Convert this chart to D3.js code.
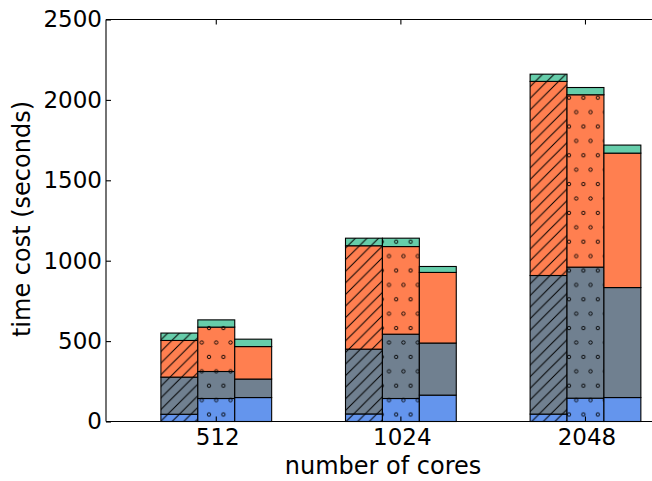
<!DOCTYPE html>
<html>
<head>
<meta charset="utf-8">
<script src="https://cdn.jsdelivr.net/npm/d3@7"></script>
<style>
  html, body { margin: 0; padding: 0; background: #fff; }
  svg { display: block; }
  text { font-family: "DejaVu Sans", sans-serif; fill: #000; }
</style>
</head>
<body>
<svg id="chart" width="652" height="481"></svg>
<script>
// ---- data ----
const categories = ["512", "1024", "2048"];
const segmentNames = ["blue", "gray", "orange", "green"];
const segmentColors = ["#6495ED", "#708090", "#FF7F50", "#66CDAA"];

// hatched ('//') bars
const hatchedBlue   = [45, 47, 46];
const hatchedGray   = [231, 403, 862];
const hatchedOrange = [228, 643, 1207];
const hatchedGreen  = [46, 47, 45];
// dotted ('o') bars
const dottedBlue   = [143, 143, 145];
const dottedGray   = [168, 400, 815];
const dottedOrange = [276, 545, 1072];
const dottedGreen  = [45, 52, 45];
// plain bars
const plainBlue   = [149, 164, 149];
const plainGray   = [115, 324, 684];
const plainOrange = [202, 439, 836];
const plainGreen  = [46, 37, 50];

const yTicks = [0, 500, 1000, 1500, 2000, 2500];

const barSets = [
  { pattern: "hatch", values: [hatchedBlue, hatchedGray, hatchedOrange, hatchedGreen] },
  { pattern: "dots",  values: [dottedBlue, dottedGray, dottedOrange, dottedGreen] },
  { pattern: null,    values: [plainBlue, plainGray, plainOrange, plainGreen] }
];
const barWidth = 0.2;

// ---- layout ----
const svg = d3.select("#chart");
const plotLeft = 106, plotTop = 19.5, plotBottom = 421.5;
const x = d3.scaleLinear().domain([-0.2974, 3.0]).range([plotLeft, plotLeft + 184.6 * 3.2974]);
const y = d3.scaleLinear().domain([0, 2500]).range([plotBottom, plotTop]);

// patterns
const defs = svg.append("defs");
const hs = 11.6;
const hp = defs.append("pattern").attr("id", "hatch")
  .attr("patternUnits", "userSpaceOnUse").attr("width", hs).attr("height", hs)
  .attr("patternTransform", "translate(2,0)");
hp.append("path").attr("d", `M-1,1 L1,-1 M0,${hs} L${hs},0 M${hs-1},${hs+1} L${hs+1},${hs-1}`)
  .attr("stroke", "#000").attr("stroke-width", 1).attr("fill", "none");

const dw = 14.4, dh = 28.8;
const dp = defs.append("pattern").attr("id", "dots")
  .attr("patternUnits", "userSpaceOnUse").attr("width", dw).attr("height", dh)
  .attr("patternTransform", "translate(7.4,11.3)");
[[0,0],[dw,0],[0,dh],[dw,dh],[dw/2,dh/2]].forEach(([cx, cy]) => {
  dp.append("circle").attr("cx", cx).attr("cy", cy).attr("r", 1.7)
    .attr("fill", "none").attr("stroke", "#000").attr("stroke-width", 0.9);
});

// bars
const gBars = svg.append("g");
categories.forEach((cat, i) => {
  barSets.forEach((set, k) => {
    let acc = 0;
    set.values.forEach((arr, s) => {
      const v = arr[i];
      const x0 = x(i + k * barWidth), x1 = x(i + (k + 1) * barWidth);
      const y0 = y(acc), y1 = y(acc + v);
      gBars.append("rect")
        .attr("x", x0).attr("y", y1).attr("width", x1 - x0).attr("height", y0 - y1)
        .attr("fill", segmentColors[s]);
      if (set.pattern) {
        gBars.append("rect")
          .attr("x", x0).attr("y", y1).attr("width", x1 - x0).attr("height", y0 - y1)
          .attr("fill", "url(#" + set.pattern + ")");
      }
      gBars.append("rect")
        .attr("x", x0).attr("y", y1).attr("width", x1 - x0).attr("height", y0 - y1)
        .attr("fill", "none").attr("stroke", "#000").attr("stroke-width", 1.1);
      acc += v;
    });
  });
});

// frame
const frame = svg.append("g").attr("stroke", "#000").attr("stroke-width", 1.1);
frame.append("line").attr("x1", plotLeft).attr("x2", plotLeft).attr("y1", plotTop).attr("y2", plotBottom);
frame.append("line").attr("x1", plotLeft).attr("x2", 660).attr("y1", plotTop).attr("y2", plotTop);
frame.append("line").attr("x1", plotLeft).attr("x2", 660).attr("y1", plotBottom).attr("y2", plotBottom);

// y axis
const yAxis = d3.axisLeft(y).tickValues(yTicks).tickFormat(d3.format("d"))
  .tickSize(-5).tickPadding(4);
const gy = svg.append("g").attr("transform", `translate(${plotLeft},0)`).call(yAxis);
gy.select(".domain").remove();
gy.selectAll("line").attr("stroke", "#000").attr("stroke-width", 1.1);
gy.selectAll("text").attr("font-size", 23).attr("font-family", "DejaVu Sans");

// x ticks (inside, bottom and top) at middle bar centers
categories.forEach((c, i) => {
  const t = x(i + 1.5 * barWidth);
  frame.append("line").attr("x1", t).attr("x2", t).attr("y1", plotBottom).attr("y2", plotBottom - 5);
  frame.append("line").attr("x1", t).attr("x2", t).attr("y1", plotTop).attr("y2", plotTop + 5);
});

// x labels
svg.append("g").selectAll("text").data(categories).join("text")
  .attr("x", (d, i) => x(i + 1.5 * barWidth) + 1.5)
  .attr("y", 445)
  .attr("text-anchor", "middle")
  .attr("font-size", 23)
  .text(d => d);

// axis titles
svg.append("text").attr("x", 383).attr("y", 474).attr("text-anchor", "middle")
  .attr("font-size", 24).text("number of cores");
svg.append("text")
  .attr("transform", "translate(30,219) rotate(-90)")
  .attr("text-anchor", "middle").attr("font-size", 24)
  .text("time cost (seconds)");
</script>
</body>
</html>
